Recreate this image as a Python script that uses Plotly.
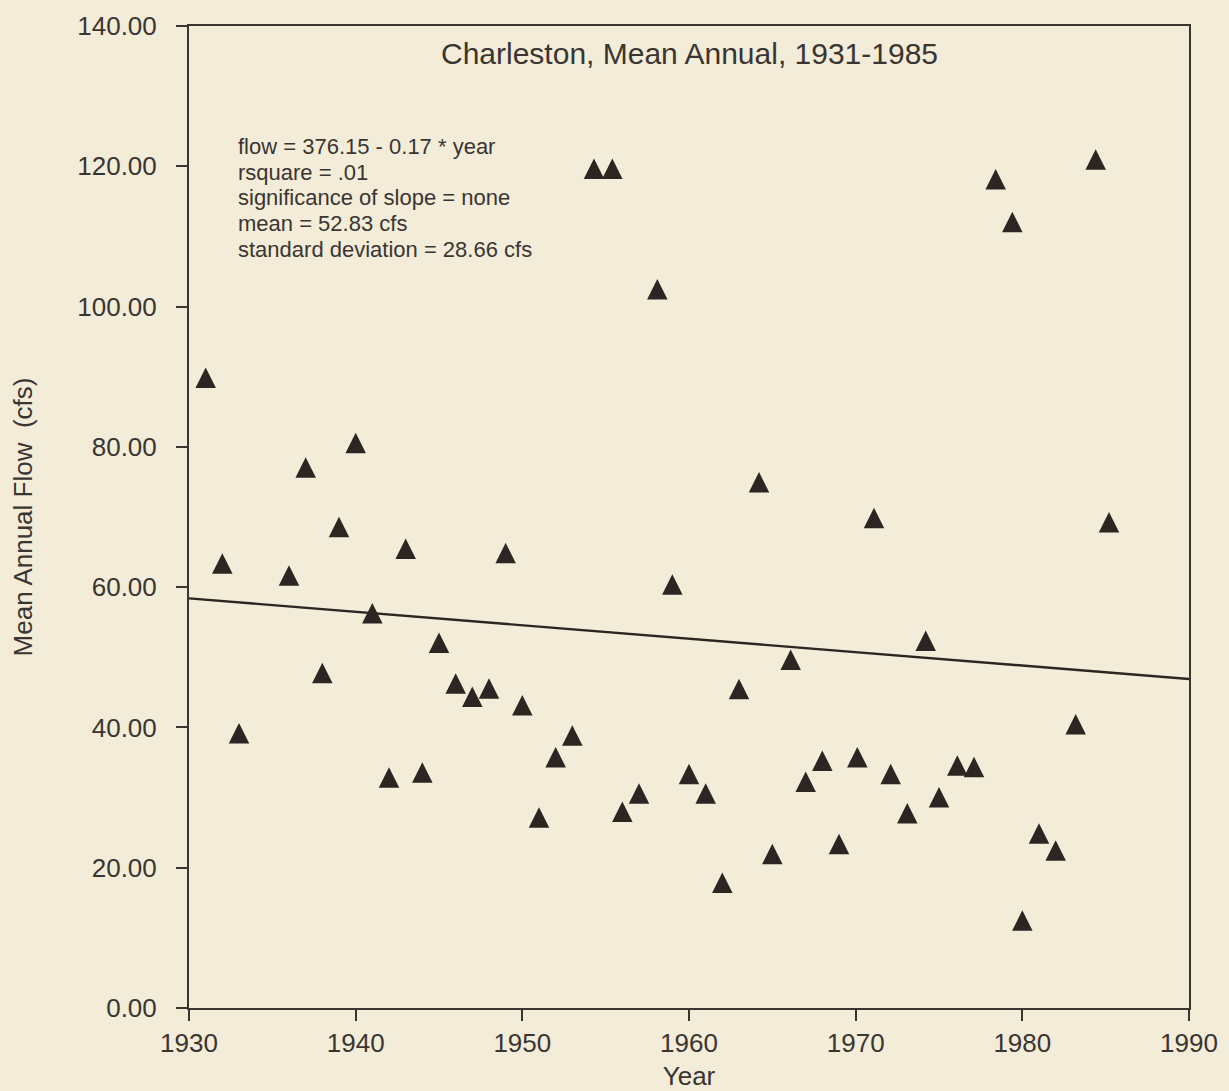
import plotly.graph_objects as go

# ---- data ----
years = [1931, 1932, 1933, 1936, 1937, 1938, 1939, 1940, 1941, 1942,
         1943, 1944, 1945, 1946, 1947, 1948, 1949, 1950, 1951, 1952,
         1953, 1954.3, 1955.4, 1956, 1957, 1958.1, 1959, 1960, 1961, 1962,
         1963, 1964.2, 1965, 1966.1, 1967, 1968, 1969, 1970.1, 1971.1, 1972.1,
         1973.1, 1974.2, 1975, 1976.1, 1977.1, 1978.4, 1979.4, 1980, 1981, 1982,
         1983.2, 1984.4, 1985.2]
flow = [89.4, 62.9, 38.7, 61.2, 76.6, 47.3, 68.1, 80.1, 55.8, 32.4,
        65.0, 33.1, 51.6, 45.8, 43.9, 45.1, 64.4, 42.7, 26.7, 35.3,
        38.4, 119.2, 119.2, 27.5, 30.1, 102.0, 59.9, 32.9, 30.1, 17.4,
        45.0, 74.5, 21.5, 49.2, 31.8, 34.8, 22.9, 35.3, 69.4, 32.9,
        27.3, 51.9, 29.6, 34.1, 33.9, 117.7, 111.6, 12.0, 24.4, 22.0,
        40.0, 120.5, 68.8]

fit_years = [1930, 1990]
fit_flow = [58.4, 46.9]

x_ticks = [1930, 1940, 1950, 1960, 1970, 1980, 1990]
y_ticks = [0, 20, 40, 60, 80, 100, 120, 140]

title_text = "Charleston, Mean Annual, 1931-1985"
stats_lines = [
    "flow = 376.15 - 0.17 * year",
    "rsquare = .01",
    "significance of slope = none",
    "mean = 52.83 cfs",
    "standard deviation = 28.66 cfs",
]

# ---- styling ----
BG = "#f3ecd8"
INK = "#3a3531"
MARK = "#2b2622"
FONT = "Liberation Sans, Arial, sans-serif"

fig = go.Figure()

fig.add_trace(go.Scatter(
    x=fit_years, y=fit_flow, mode="lines",
    line=dict(color=MARK, width=2.4),
    showlegend=False, hoverinfo="skip",
))

fig.add_trace(go.Scatter(
    x=years, y=flow, mode="markers",
    marker=dict(symbol="arrow-down", angle=180, standoff=13.5, size=20.5,
                color=MARK, line=dict(width=0)),
    showlegend=False,
))

axis_common = dict(
    showline=True, linecolor=INK, linewidth=2, mirror=True,
    ticks="outside", ticklen=11, tickwidth=2, tickcolor=INK,
    showgrid=False, zeroline=False,
    tickfont=dict(family=FONT, size=26, color=INK),
)

fig.update_xaxes(
    range=[1930, 1990], tickvals=x_ticks,
    ticktext=[str(v) for v in x_ticks],
    ticklabelstandoff=0,
    title=dict(text="Year", font=dict(family=FONT, size=26, color=INK), standoff=10),
    **axis_common,
)
fig.update_yaxes(
    range=[0, 140], tickvals=y_ticks,
    ticktext=[f"{v:.2f}" for v in y_ticks],
    ticklabelstandoff=14,
    title=dict(text="Mean Annual Flow\u00a0 (cfs)", font=dict(family=FONT, size=26, color=INK), standoff=40),
    **axis_common,
)

annotations = [dict(
    text=title_text, xref="paper", yref="paper", x=0.5, y=0.972,
    xanchor="center", yanchor="middle", showarrow=False,
    font=dict(family=FONT, size=30, color=INK),
)]
line_top = 0.8775
line_step = 0.0263
for i, t in enumerate(stats_lines):
    annotations.append(dict(
        text=t, xref="paper", yref="paper", x=0.047, y=line_top - i * line_step,
        xanchor="left", yanchor="middle", showarrow=False,
        font=dict(family=FONT, size=22, color=INK),
    ))

# the page adds an 8 px body margin, so the margins are shifted to compensate
fig.update_layout(
    width=1229, height=1091,
    margin=dict(l=181, r=48, t=18, b=91, autoexpand=False),
    paper_bgcolor=BG, plot_bgcolor=BG,
    annotations=annotations,
    font=dict(family=FONT, color=INK),
)

fig.write_html(
    "out.html",
    post_script="document.body.style.background='" + BG + "';",
)
